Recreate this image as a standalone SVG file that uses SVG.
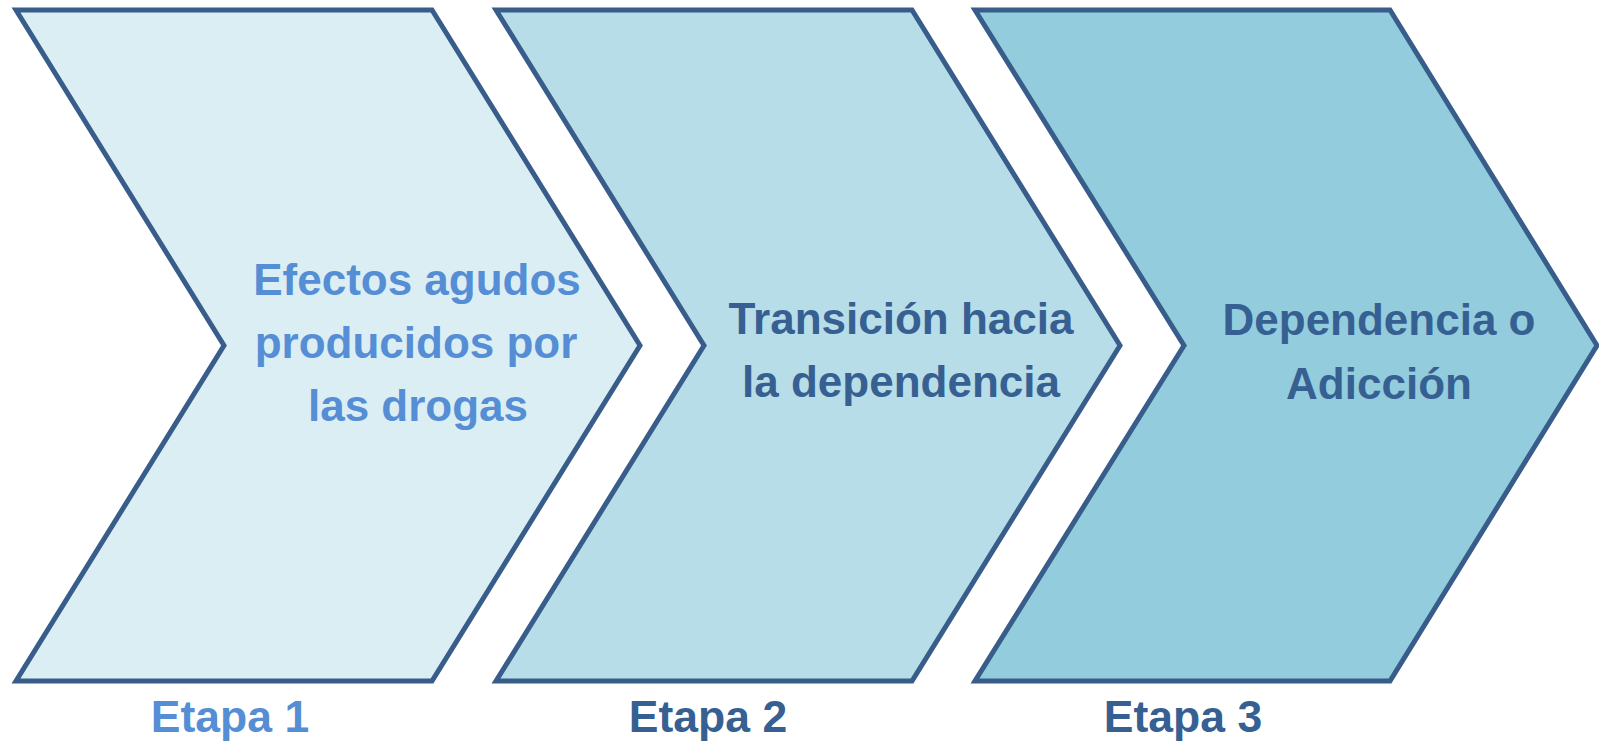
<svg xmlns="http://www.w3.org/2000/svg" width="1599" height="741" viewBox="0 0 1599 741">
<style>
.chev{stroke:#385D8A;stroke-width:5;stroke-linejoin:miter}
.t{font-family:"Liberation Sans",Arial,sans-serif;font-weight:bold;text-anchor:middle}
.body{font-size:44px}
.lbl{font-size:44.5px}
.light{fill:#558ED5}
.dark{fill:#376092}
</style>
<rect width="1599" height="741" fill="#FFFFFF"/>
<g id="connectors"></g>
<g id="stage1">
<polygon class="chev" fill="#DBEEF4" points="16,10 432,10 640,345.5 432,681 16,681 224,345.5"/>
<text class="t body light" x="417" y="295">Efectos agudos</text>
<text class="t body light" x="416" y="358">producidos por</text>
<text class="t body light" x="418" y="421">las drogas</text>
</g>
<g id="stage2">
<polygon class="chev" fill="#B7DDE8" points="496,10 912,10 1120,345.5 912,681 496,681 704,345.5"/>
<text class="t body dark" x="901" y="334">Transición hacia</text>
<text class="t body dark" x="901" y="397">la dependencia</text>
</g>
<g id="stage3">
<polygon class="chev" fill="#93CDDD" points="975,10 1390,10 1597,345.5 1390,681 975,681 1184,345.5"/>
<text class="t body dark" x="1379" y="335">Dependencia o</text>
<text class="t body dark" x="1379" y="399">Adicción</text>
</g>
<g id="labels">
<text class="t lbl light" x="230" y="732">Etapa 1</text>
<text class="t lbl dark" x="708" y="732">Etapa 2</text>
<text class="t lbl dark" x="1183" y="732">Etapa 3</text>
</g>
</svg>
